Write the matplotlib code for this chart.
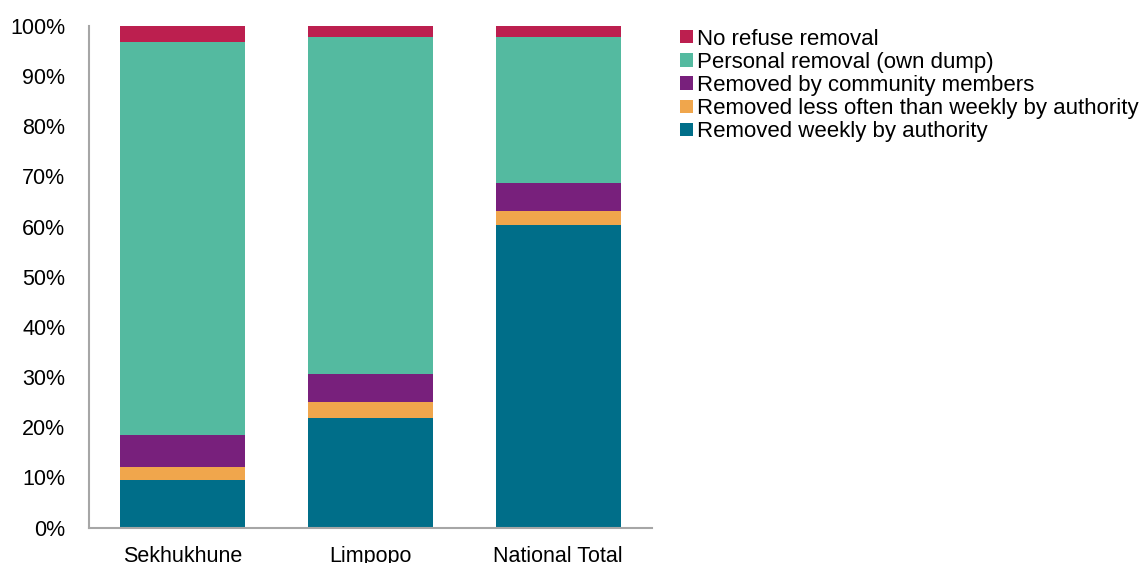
import numpy as np
import matplotlib.pyplot as plt

plt.rcParams['font.family'] = ['Liberation Sans', 'DejaVu Sans']

categories = ['Sekhukhune', 'Limpopo', 'National Total']
weekly = [9.5, 21.8, 60.3]
less_often = [2.5, 3.2, 2.8]
community = [6.4, 5.6, 5.6]
personal = [78.4, 67.1, 29.1]
no_removal = [3.2, 2.3, 2.2]

series = [
    ('Removed weekly by authority', weekly, '#006E89'),
    ('Removed less often than weekly by authority', less_often, '#F0A64C'),
    ('Removed by community members', community, '#78207C'),
    ('Personal removal (own dump)', personal, '#54BAA0'),
    ('No refuse removal', no_removal, '#BC1F4F'),
]

fig = plt.figure(figsize=(11.42, 5.63), dpi=100)
ax = fig.add_axes([0.078, 0.063, 0.493, 0.891])

x = np.arange(len(categories))
bottom = np.zeros(len(categories))
handles = []
for label, vals, color in series:
    b = ax.bar(x, vals, width=0.667, bottom=bottom, color=color, label=label)
    handles.append(b)
    bottom += np.array(vals)

ax.set_xlim(-0.5, 2.5)
ax.set_ylim(0, 100)
ax.set_yticks(np.arange(0, 101, 10))
ax.set_yticklabels([f'{v}%' for v in range(0, 101, 10)])
ax.set_xticks(x)
ax.set_xticklabels(categories)
ax.tick_params(axis='both', length=0, labelsize=15.5, colors='black')
ax.tick_params(axis='y', pad=17)
ax.tick_params(axis='x', pad=13)
for s in ['top', 'right']:
    ax.spines[s].set_visible(False)
for s in ['left', 'bottom']:
    ax.spines[s].set_color('#A6A6A6')
    ax.spines[s].set_linewidth(1.5)

fig.legend(handles[::-1], [s[0] for s in series][::-1],
           loc='upper left', bbox_to_anchor=(0.588, 0.965),
           frameon=False, fontsize=16, handlelength=0.55, handleheight=0.55,
           handletextpad=0.2, labelspacing=0.1, borderaxespad=0)

fig.savefig('out.png', dpi=100)
